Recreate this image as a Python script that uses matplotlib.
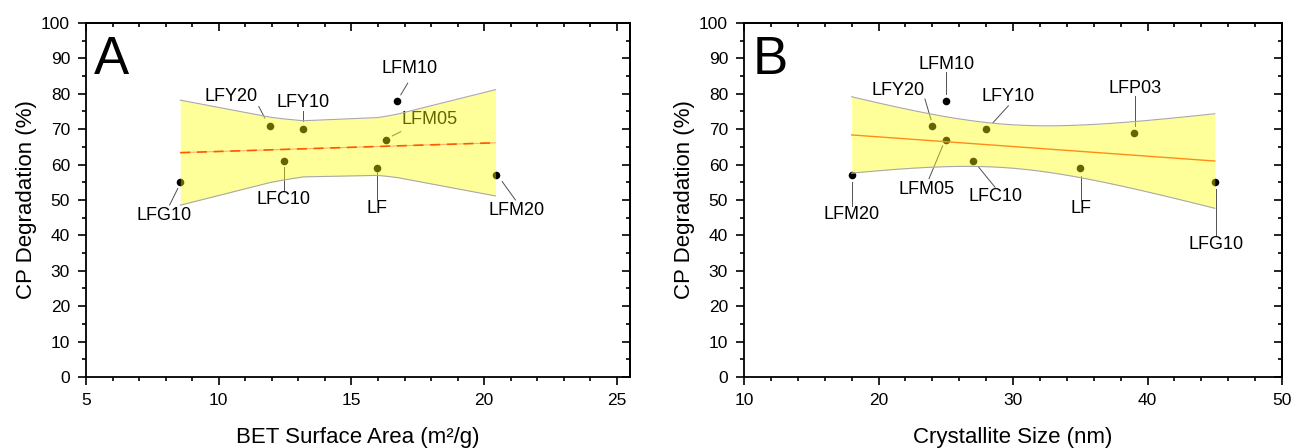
import numpy as np
import matplotlib
matplotlib.use('Agg')
import matplotlib.pyplot as plt
from matplotlib.ticker import MultipleLocator

plt.rcParams['font.family'] = ['Liberation Sans', 'DejaVu Sans']

# ---------------- data ----------------
# Panel A: BET surface area vs CP degradation
a_labels = ['LFG10', 'LFY20', 'LFC10', 'LFY10', 'LF', 'LFM05', 'LFM10', 'LFM20']
a_bet = [8.55, 11.93, 12.44, 13.19, 15.98, 16.30, 16.73, 20.43]
a_cp = [55, 71, 61, 70, 59, 67, 78, 57]

# Panel B: crystallite size vs CP degradation
b_labels = ['LFM20', 'LFY20', 'LFM10', 'LFM05', 'LFC10', 'LFY10', 'LF', 'LFP03', 'LFG10']
b_size = [18, 24, 25, 25, 27, 28, 35, 39, 45]
b_cp = [57, 71, 78, 67, 61, 70, 59, 69, 55]

# two-sided 95% Student t critical values by degrees of freedom
t_crit = {6: 2.4469, 7: 2.3646}

# ---------------- label layout ----------------
a_text_pos = [(7.95, 45.7), (10.46, 79.2), (12.44, 50.2), (13.19, 77.4),
              (15.98, 47.5), (17.95, 72.6), (17.2, 87.1), (21.22, 47.0)]
a_leaders = [((8.15, 48.6), (8.46, 53.3)), ((11.51, 76.4), (11.74, 73.1)),
             ((12.44, 52.8), (12.44, 59.4)), ((13.19, 75.0), (13.19, 72.2)),
             ((15.98, 50.0), (15.98, 58.0)), ((16.86, 69.3), (16.54, 68.1)),
             ((17.12, 83.0), (16.86, 79.7)), ((20.68, 55.2), (21.18, 50.0))]

b_text_pos = [(18.0, 45.9), (21.45, 80.9), (25.04, 88.3), (23.6, 52.9),
              (28.7, 50.9), (29.6, 79.1), (35.05, 47.6), (39.04, 81.6), (45.09, 37.3)]
b_leaders = [((18.01, 55.0), (18.01, 48.3)), ((23.9, 72.7), (23.45, 78.5)),
             ((25.04, 86.1), (25.04, 79.9)), ((24.77, 65.3), (23.75, 56.0)),
             ((27.44, 59.3), (28.66, 53.6)), ((28.5, 71.8), (29.65, 76.6)),
             ((35.05, 56.9), (35.05, 49.8)), ((39.04, 79.4), (39.04, 71.0)),
             ((45.09, 53.1), (45.09, 40.0))]


def fit_band(x, y, xe):
    x = np.asarray(x, float)
    y = np.asarray(y, float)
    n = len(x)
    b, a = np.polyfit(x, y, 1)
    resid = y - (a + b * x)
    s = np.sqrt(np.sum(resid ** 2) / (n - 2))
    sxx = np.sum((x - x.mean()) ** 2)
    yhat = a + b * xe
    half = t_crit[n - 2] * s * np.sqrt(1.0 / n + (xe - x.mean()) ** 2 / sxx)
    return yhat, yhat - half, yhat + half


def style_axes(ax, xlim, xmaj, xmin):
    ax.set_xlim(*xlim)
    ax.set_ylim(0, 100)
    ax.xaxis.set_major_locator(MultipleLocator(xmaj))
    ax.xaxis.set_minor_locator(MultipleLocator(xmin))
    ax.yaxis.set_major_locator(MultipleLocator(10))
    ax.yaxis.set_minor_locator(MultipleLocator(5))
    for sp in ax.spines.values():
        sp.set_linewidth(1.3)
    ax.tick_params(which='both', direction='out', width=1.2, labelsize=12.5,
                   top=False, right=False)
    ax.tick_params(which='major', length=5.5, pad=6)
    ax.tick_params(which='minor', length=3)
    # mirrored inward ticks on top and right
    sx = ax.secondary_xaxis('top')
    sx.xaxis.set_major_locator(MultipleLocator(xmaj))
    sx.xaxis.set_minor_locator(MultipleLocator(xmin))
    sx.tick_params(which='both', direction='in', width=1.2, labeltop=False)
    sx.tick_params(which='major', length=5.5)
    sx.tick_params(which='minor', length=3)
    sx.spines['top'].set_linewidth(1.3)
    sy = ax.secondary_yaxis('right')
    sy.yaxis.set_major_locator(MultipleLocator(10))
    sy.yaxis.set_minor_locator(MultipleLocator(5))
    sy.tick_params(which='both', direction='in', width=1.2, labelright=False)
    sy.tick_params(which='major', length=5.5)
    sy.tick_params(which='minor', length=3)
    sy.spines['right'].set_linewidth(1.3)


fig = plt.figure(figsize=(12.92, 4.48), dpi=100)
axA = fig.add_axes([0.0666, 0.1585, 0.4211, 0.7902])
axB = fig.add_axes([0.5759, 0.1585, 0.4164, 0.7902])

# ---------- Panel A ----------
style_axes(axA, (5, 25.5), 5, 1)
axA.scatter(a_bet, a_cp, s=30, color='black', zorder=3, linewidths=0)
xa = np.unique(np.asarray(a_bet))
yhat, lo, hi = fit_band(a_bet, a_cp, xa)
axA.fill_between(xa, lo, hi, color='#ffff00', alpha=0.4, lw=0, zorder=4)
axA.plot(xa, lo, color='#a8a8a8', lw=0.8, zorder=4.5)
axA.plot(xa, hi, color='#a8a8a8', lw=0.8, zorder=4.5)
axA.plot(xa, yhat, color='#ffb070', lw=0.8, zorder=5)
axA.plot(xa, yhat, color='#ff5a00', lw=1.2, dashes=(6, 4), zorder=5.1)
for lab, (tx, ty), (p0, p1) in zip(a_labels, a_text_pos, a_leaders):
    axA.text(tx, ty, lab, fontsize=13, ha='center', va='center', zorder=3.5)
    axA.plot([p0[0], p1[0]], [p0[1], p1[1]], color='#505050', lw=0.7, zorder=3.5)
axA.text(0.015, 0.965, 'A', transform=axA.transAxes, fontsize=38,
         ha='left', va='top', zorder=6)
axA.set_xlabel('BET Surface Area (m\u00b2/g)', fontsize=16, labelpad=14)
axA.set_ylabel('CP Degradation (%)', fontsize=16, labelpad=3)

# ---------- Panel B ----------
style_axes(axB, (10, 50), 10, 2)
axB.scatter(b_size, b_cp, s=30, color='black', zorder=3, linewidths=0)
xb = np.linspace(min(b_size), max(b_size), 200)
yhat, lo, hi = fit_band(b_size, b_cp, xb)
axB.fill_between(xb, lo, hi, color='#ffff00', alpha=0.4, lw=0, zorder=4)
axB.plot(xb, lo, color='#a8a8a8', lw=0.8, zorder=4.5)
axB.plot(xb, hi, color='#a8a8a8', lw=0.8, zorder=4.5)
axB.plot(xb, yhat, color='#ff8c1a', lw=1.0, zorder=5)
for lab, (tx, ty), (p0, p1) in zip(b_labels, b_text_pos, b_leaders):
    axB.text(tx, ty, lab, fontsize=13, ha='center', va='center', zorder=3.5)
    axB.plot([p0[0], p1[0]], [p0[1], p1[1]], color='#505050', lw=0.7, zorder=3.5)
axB.text(0.015, 0.965, 'B', transform=axB.transAxes, fontsize=38,
         ha='left', va='top', zorder=6)
axB.set_xlabel('Crystallite Size (nm)', fontsize=16, labelpad=14)
axB.set_ylabel('CP Degradation (%)', fontsize=16, labelpad=3)

fig.savefig('out.png', dpi=100)
